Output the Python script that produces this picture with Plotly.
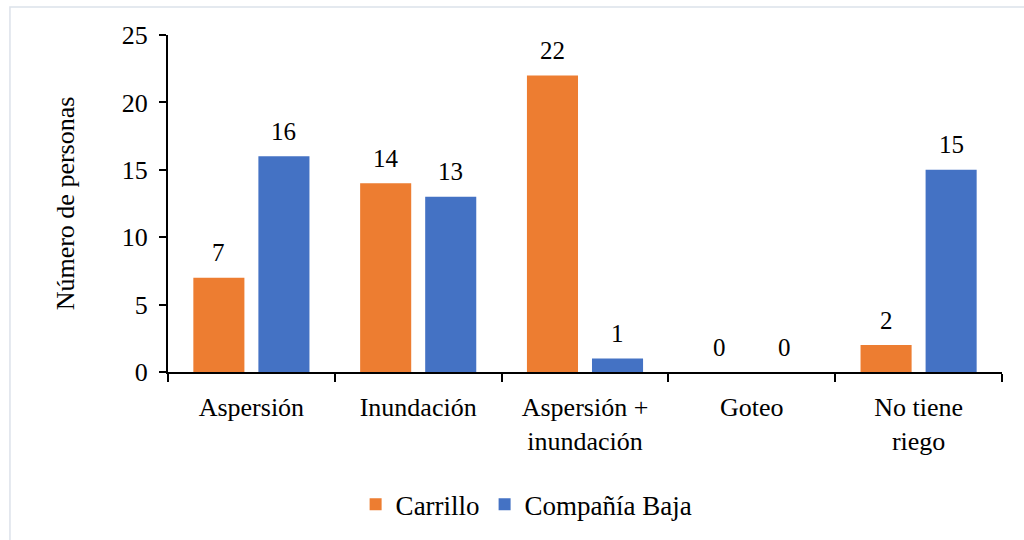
import plotly.graph_objects as go

# Irrigation system used, by community
categorias = ["Aspersión", "Inundación", "Aspersión +<br>inundación", "Goteo", "No tiene<br>riego"]
carrillo = [7, 14, 22, 0, 2]
compania_baja = [16, 13, 1, 0, 15]

series = [
    ("Carrillo", carrillo, "#ED7D31", -32.5),
    ("Compañía Baja", compania_baja, "#4472C4", 32.5),
]

FONT = "Liberation Serif"
SIZE = 26

fig = go.Figure()
for nombre, valores, color, _ in series:
    fig.add_trace(go.Bar(
        name=nombre,
        x=categorias,
        y=valores,
        marker=dict(color=color, line=dict(width=0)),
    ))

# value labels above each bar
for nombre, valores, color, desplazamiento in series:
    for cat, v in zip(categorias, valores):
        fig.add_annotation(
            x=cat, y=v, xref="x", yref="y",
            text=str(v), showarrow=False,
            xshift=desplazamiento, yshift=25,
            yanchor="middle",
            font=dict(family=FONT, size=SIZE - 1, color="#000000"),
        )

# light frame around the chart
fig.add_shape(
    type="rect", xref="paper", yref="paper",
    x0=-0.1895, x1=1.06, y0=-0.65, y1=1.0828,
    line=dict(color="#dce2ea", width=1.5),
    fillcolor="rgba(0,0,0,0)", layer="below",
)

fig.update_layout(
    width=1024, height=540,
    margin=dict(l=168, r=22, t=35, b=167),
    paper_bgcolor="white", plot_bgcolor="white",
    barmode="group", bargap=0.22, bargroupgap=0.215,
    font=dict(family=FONT, size=SIZE, color="#000000"),
    showlegend=True,
    legend=dict(
        orientation="h", x=0.43, xanchor="center", y=-0.39, yanchor="middle",
        font=dict(family=FONT, size=SIZE + 1, color="#000000"),
        itemsizing="constant", traceorder="normal",
    ),
)

fig.update_xaxes(
    type="category",
    showline=True, linecolor="#000000", linewidth=2,
    ticks="outside", tickson="boundaries", ticklen=8, tickwidth=2, tickcolor="#000000",
    ticklabelstandoff=11,
    showgrid=False, zeroline=False,
    tickfont=dict(family=FONT, size=SIZE, color="#000000"),
    automargin=False,
)
fig.update_yaxes(
    range=[0, 25], dtick=5, tick0=0,
    showline=True, linecolor="#000000", linewidth=2,
    ticks="outside", ticklen=7, tickwidth=2, tickcolor="#000000",
    ticklabelstandoff=6,
    showgrid=False, zeroline=False,
    tickfont=dict(family=FONT, size=SIZE, color="#000000"),
    title=dict(text="Número de personas", standoff=40,
               font=dict(family=FONT, size=SIZE, color="#000000")),
    automargin=False,
)

fig.write_html("out.html")
